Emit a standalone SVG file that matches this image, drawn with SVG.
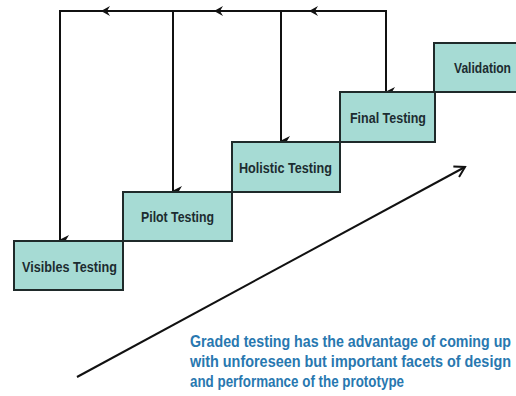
<svg xmlns="http://www.w3.org/2000/svg" width="516" height="396" viewBox="0 0 516 396">
  <style>
    .step rect { fill: #a6dbd4; stroke: #1f2a2a; stroke-width: 2; }
    .step text { font-family: "Liberation Sans", Arial, sans-serif; font-weight: bold; font-size: 15.5px; fill: #1c2c30; text-anchor: middle; }
    .wire { fill: none; stroke: #111; stroke-width: 2; }
    .head { fill: #111; }
    .note { font-family: "Liberation Sans", Arial, sans-serif; font-weight: bold; font-size: 16px; fill: #2878b0; }
  </style>
  <defs>
    <marker id="down" markerWidth="10" markerHeight="10" refX="5" refY="9" orient="auto-start-reverse" markerUnits="userSpaceOnUse" viewBox="0 0 10 10">
      <path d="M0,0 L5,3 L10,0 L5,10 Z" fill="#111"/>
    </marker>
    <marker id="open" markerWidth="14" markerHeight="14" refX="12" refY="7" orient="auto" markerUnits="userSpaceOnUse" viewBox="0 0 14 14">
      <path d="M2,1 L12,7 L2,13" fill="none" stroke="#111" stroke-width="2"/>
    </marker>
  </defs>

  <!-- feedback loops running back to earlier stages -->
  <g id="connectors">
    <path class="wire" d="M386,92 V11 H60 V240" marker-end="url(#down)"/>
    <path class="wire" d="M386,11 V92" marker-end="url(#down)"/>
    <path class="wire" d="M173,11 V191" marker-end="url(#down)"/>
    <path class="wire" d="M281,11 V141" marker-end="url(#down)"/>
    <!-- leftward arrowheads along the top line -->
    <path class="head" d="M101,11 L110,6 L107,11 L110,16 Z"/>
    <path class="head" d="M214,11 L223,6 L220,11 L223,16 Z"/>
    <path class="head" d="M309,11 L318,6 L315,11 L318,16 Z"/>
    <!-- overall progress arrow -->
    <path class="wire" d="M77,377 L465,167" marker-end="url(#open)"/>
  </g>

  <!-- labels use a horizontal 0.8 squeeze for a condensed face -->
  <g id="visibles" class="step">
    <rect x="14" y="241" width="109" height="49"/>
    <text transform="scale(0.8,1)" x="86.875" y="272" textLength="118.75" lengthAdjust="spacingAndGlyphs">Visibles Testing</text>
  </g>
  <g id="pilot" class="step">
    <rect x="123" y="192" width="109" height="49"/>
    <text transform="scale(0.8,1)" x="221.875" y="222" textLength="91.25" lengthAdjust="spacingAndGlyphs">Pilot Testing</text>
  </g>
  <g id="holistic" class="step">
    <rect x="232" y="142" width="108" height="50"/>
    <text transform="scale(0.8,1)" x="356.875" y="173" textLength="116.25" lengthAdjust="spacingAndGlyphs">Holistic Testing</text>
  </g>
  <g id="final" class="step">
    <rect x="340" y="92" width="95" height="50"/>
    <text transform="scale(0.8,1)" x="485" y="123" textLength="95" lengthAdjust="spacingAndGlyphs">Final Testing</text>
  </g>
  <g id="validation" class="step">
    <rect x="434" y="43" width="100" height="49"/>
    <text transform="scale(0.8,1)" x="603.125" y="73" textLength="71.25" lengthAdjust="spacingAndGlyphs">Validation</text>
  </g>

  <g id="caption">
    <text class="note" transform="scale(0.8,1)" x="237.5" y="347" textLength="401.25" lengthAdjust="spacingAndGlyphs">Graded testing has the advantage of coming up</text>
    <text class="note" transform="scale(0.8,1)" x="237.5" y="367" textLength="401.25" lengthAdjust="spacingAndGlyphs">with unforeseen but important facets of design</text>
    <text class="note" transform="scale(0.8,1)" x="237.5" y="387" textLength="267.5" lengthAdjust="spacingAndGlyphs">and performance of the prototype</text>
  </g>
</svg>
